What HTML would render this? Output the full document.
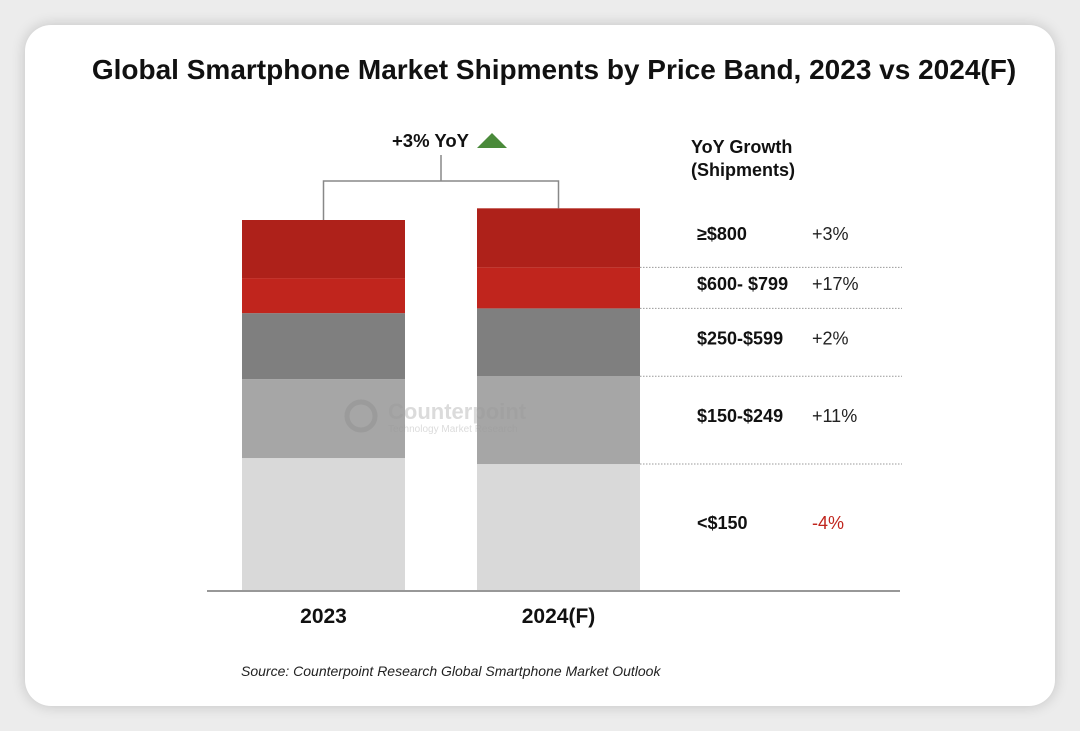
<!DOCTYPE html>
<html><head><meta charset="utf-8"><style>
html,body{margin:0;padding:0;background:#ececec;width:1080px;height:731px;overflow:hidden}
#card{position:absolute;left:25px;top:25px;width:1030px;height:681px;background:#fff;border-radius:26px;box-shadow:0 0 14px rgba(0,0,0,0.18)}
svg{position:absolute;left:0;top:0}
text{font-family:"Liberation Sans",Arial,sans-serif}
</style></head><body>
<div id="card"></div>
<svg id="chart" width="1080" height="731"></svg>
<script>
const categories = ["2023", "2024(F)"];
const bands = ["<$150", "$150-$249", "$250-$599", "$600- $799", "≥$800"];
const s2023 = [418, 250, 209, 111, 184];
const s2024 = [399, 278, 215, 130, 187];
const growth = ["-4%", "+11%", "+2%", "+17%", "+3%"];
const colors = ["#d9d9d9", "#a6a6a6", "#7f7f7f", "#c0251d", "#ae211a"];

const NS = "http://www.w3.org/2000/svg";
const svg = document.getElementById("chart");
const baseY = 590, pxPer = 370 / 1172;
const y = v => baseY - v * pxPer;
const barX = [242, 477], barW = 163;
function mk(tag, attrs, parent) {
  const e = document.createElementNS(NS, tag);
  for (const k in attrs) e.setAttribute(k, attrs[k]);
  (parent || svg).appendChild(e);
  return e;
}
function txt(x, yy, s, size, weight, fill, anchor, style) {
  const t = mk("text", {x: x, y: yy, "font-size": size, "font-weight": weight, fill: fill, "text-anchor": anchor || "start"});
  if (style) t.setAttribute("font-style", style);
  t.textContent = s;
  return t;
}
let t = txt(554, 79, "Global Smartphone Market Shipments by Price Band, 2023 vs 2024(F)", 28, "bold", "#111", "middle");



const series = [s2023, s2024];
const tops = [];
series.forEach((vals, ci) => {
  let cum = 0;
  vals.forEach((v, bi) => {
    const r = mk("rect", {x: barX[ci], y: y(cum + v), width: barW, height: y(cum) - y(cum + v), fill: colors[bi]});
    
    
    cum += v;
  });
  tops.push(y(cum));
  const l = txt(barX[ci] + barW / 2, 623, categories[ci], 21, "bold", "#111", "middle");
  
  
});
// watermark
const wm = mk("g", {opacity: 0.35});


mk("circle", {cx: 361, cy: 416, r: 14, fill: "none", stroke: "#888", "stroke-width": 5}, wm);
const w1 = txt(388, 419, "Counterpoint", 22, "bold", "#999"); wm.appendChild(w1);
const w2 = txt(388, 432, "Technology Market Research", 10, "normal", "#999"); wm.appendChild(w2);

// axis line
const ax = mk("line", {x1: 207, x2: 900, y1: 591, y2: 591, stroke: "#777", "stroke-width": 1.5});



// bracket
const bx1 = barX[0] + barW / 2, bx2 = barX[1] + barW / 2, bm = (bx1 + bx2) / 2;
const br = mk("path", {d: `M${bx1},${tops[0]} V181 H${bx2} V${tops[1]} M${bm},181 V155`, fill: "none", stroke: "#888", "stroke-width": 1.5});


const yl = txt(392, 147, "+3% YoY", 18.5, "bold", "#111");


const tri = mk("polygon", {points: "477,148 507,148 492,133", fill: "#4a8a3a"});



// right table
const h1 = txt(691, 153, "YoY Growth", 18, "bold", "#111");


const h2 = txt(691, 176, "(Shipments)", 18, "bold", "#111");


let cum = 0;
s2024.forEach((v, bi) => {
  const y0 = y(cum), y1 = y(cum + v);
  const mid = (y0 + y1) / 2 + 2;
  if (bi < s2024.length - 1) {
    const dl = mk("line", {x1: 640, x2: 902, y1: y1, y2: y1, stroke: "#999", "stroke-width": 1, "stroke-dasharray": "1.5,1.5"});
    
    
  }
  const bl = txt(697, mid, bands[bi], 18, "bold", "#111");
  
  
  const gl = txt(812, mid, growth[bi], 18, "normal", growth[bi][0] === "-" ? "#c0251d" : "#222");
  
  
  cum += v;
});
const src = txt(241, 676, "Source: Counterpoint Research Global Smartphone Market Outlook", 14, "normal", "#222", "start", "italic");


</script>
</body></html>
